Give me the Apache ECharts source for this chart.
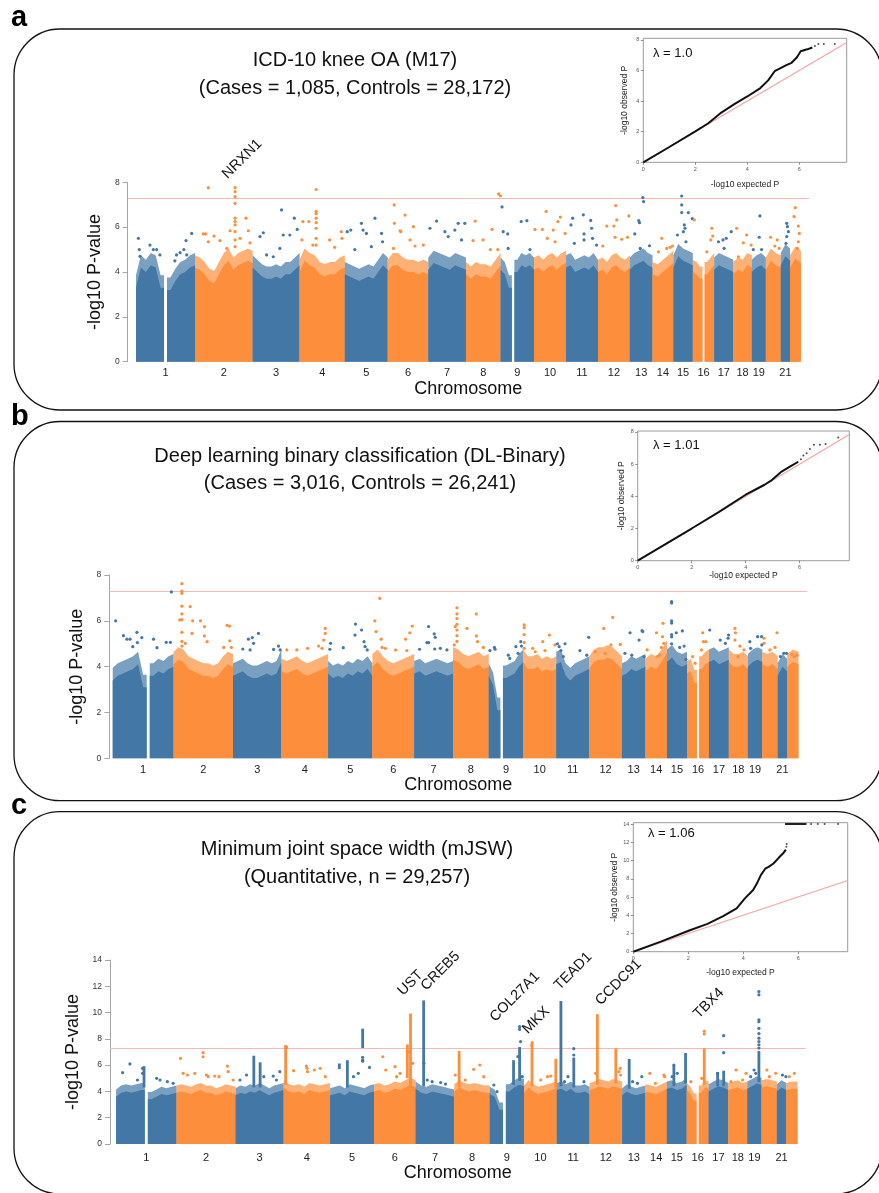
<!DOCTYPE html>
<html>
<head>
<meta charset="utf-8">
<script src="https://cdn.jsdelivr.net/npm/echarts@6/dist/echarts.min.js"></script>
<style>
  html, body { margin: 0; background: #fff; }
  #main { width: 879px; height: 1193px; }
</style>
</head>
<body>
<div id="main"></div>
<script>
// chromosomes and their plotted spans (Mb)
var chromNames = ['1','2','3','4','5','6','7','8','9','10','11','12','13','14','15','16','17','18','19','20','21','22'];
var chromSpan = [249, 243, 198, 191, 181, 171, 159, 146, 141, 135, 135, 134, 96, 88, 82, 90, 81, 78, 59, 63, 39, 46];
var shownLabels = ['1','2','3','4','5','6','7','8','9','10','11','12','13','14','15','16','17','18','19','21'];
var gwLine = 7.3;

// dense part of each chromosome: top of the cloud, evenly spaced along the chromosome (null = gap)
var aBody = [
  [3.6, 4.5, 4.3, 4.6, 4.5, 3.6, null, 3.5, 3.9, 4.2, 4.3, 4.5, 4.6],
  [4.5, 4.4, 4.2, 3.9, 3.8, 4.2, 4.6, 4.8, 4.4, 4.6, 4.7, 4.8, 4.7],
  [4.5, 4.3, 4.1, 4.0, 4.0, 4.1, 4.0, 4.2, 4.2, 4.4, 4.6],
  [4.3, 4.8, 4.6, 4.5, 4.2, 4.1, 4.2, 4.2, 4.4, 4.5],
  [4.2, 4.1, 4.0, 3.9, 4.0, 4.1, 4.0, 4.3, 4.6, 4.4],
  [4.3, 4.6, 4.6, 4.4, 4.3, 4.3, 4.2, 4.3, 4.2],
  [4.4, 4.7, 4.6, 4.5, 4.4, 4.6, 4.5, 4.4],
  [4.2, 4.0, 4.2, 4.1, 4.1, 4.0, 4.3, 4.6],
  [4.4, 4.2, 3.6, null, 4.3, 4.6, 4.5, 4.6, 4.4],
  [4.4, 4.5, 4.3, 4.5, 4.6, 4.4, 4.6, 4.7],
  [4.5, 4.6, 4.3, 4.4, 4.5, 4.4, 4.6, 4.3],
  [4.3, 4.4, 4.2, 4.5, 4.6, 4.4, 4.3, 4.5],
  [4.4, 4.6, 4.7, 4.8, 4.6, 4.5],
  [4.2, 4.1, 4.3, 4.5, 4.7],
  [4.5, 5.0, 4.8, 4.7, 4.6],
  [4.3, 4.2, 4.0, null, 4.2, 4.4, 4.6],
  [4.4, 4.6, 4.5, 4.4, 4.3],
  [4.2, 4.4, 4.3, 4.6, 4.5],
  [4.3, 4.5, 4.6, 4.4],
  [4.4, 4.8, 4.6, 4.5],
  [4.6, 5.0, 4.8],
  [4.5, 4.9, 4.7]
];
// single SNPs standing above the cloud: [chromosome, position Mb, -log10 P]
var aDots = [
  [1,10,5.5],[1,14,5.0],[1,59,5.2],[1,73,5.0],[1,87,5.0],[1,101,4.76],[1,17,4.7],[1,164,4.5],[1,171,4.76],[1,202,5.0],[1,211,5.4],[1,235,5.72],[1,214,4.76],[1,186,4.86],
  [2,56,7.76],[2,169,7.76],[2,169,7.58],[2,169,7.36],[2,169,7.06],[2,169,6.4],[2,169,6.25],[2,169,6.1],[2,169,5.8],[2,169,5.43],[2,169,5.13],[2,35,5.7],[2,45,5.7],[2,80,5.6],[2,105,5.4],[2,56,5.35],[2,148,5.84],[2,190,5.5],[2,215,6.4],[2,225,5.84],[2,232,5.3],[2,134,5.05],
  [3,31,5.58],[3,45,5.75],[3,122,6.77],[3,115,5.05],[3,129,5.65],[3,157,5.65],[3,176,6.4],[3,188,5.9],[3,87,4.68],[3,59,4.76],
  [4,70,7.68],[4,70,6.7],[4,70,6.6],[4,70,6.4],[4,70,6.2],[4,70,5.95],[4,70,5.5],[4,70,5.2],[4,14,6.25],[4,39,6.25],[4,10,5.43],[4,56,5.2],[4,127,5.43],[4,176,5.8],[4,179,5.5],[4,148,5.1],
  [5,10,5.8],[5,25,5.87],[5,70,6.17],[5,77,5.87],[5,91,5.72],[5,127,6.4],[5,155,5.72],[5,159,5.35],[5,42,5.0],[5,112,5.13],
  [6,27,6.99],[6,28,6.17],[6,24,5.05],[6,73,6.54],[6,52,5.84],[6,55,5.8],[6,108,6.02],[6,94,5.43],[6,115,5.16],[6,150,5.2],
  [7,7,5.95],[7,35,6.27],[7,70,5.8],[7,84,5.58],[7,112,5.87],[7,126,6.17],[7,154,6.17],[7,140,5.43],
  [8,39,6.27],[8,30,5.4],[8,72,5.43],[8,110,5.9],[8,138,7.48],[8,145,7.4],[8,134,5.0],[8,103,5.0],
  [9,6,6.9],[9,11,5.8],[9,30,5.7],[9,32,5.05],[9,87,6.25],[9,111,6.29],[9,124,5.0],
  [10,4,5.9],[10,35,5.9],[10,51,6.7],[10,56,5.5],[10,81,5.87],[10,101,6.25],[10,111,6.45],[10,131,5.72],[10,89,5.35],
  [11,28,6.4],[11,21,6.1],[11,73,6.55],[11,76,5.7],[11,76,5.43],[11,104,6.3],[11,108,5.95],[11,112,5.5],[11,35,5.28],[11,129,5.2],
  [12,20,5.16],[12,37,6.05],[12,67,6.05],[12,75,6.96],[12,79,6.32],[12,100,5.46],[12,130,6.5],[12,124,5.55],[12,72,5.55],
  [13,55,7.32],[13,58,7.14],[13,38,6.29],[13,41,6.2],[13,21,5.7],[13,44,5.05],[13,83,5.17],
  [14,39,5.5],[14,25,4.9],[14,60,5.05],[14,74,5.1],[14,84,5.16],
  [15,35,7.39],[15,35,6.99],[15,35,6.65],[15,46,6.1],[15,49,5.95],[15,63,6.65],[15,80,6.38],[15,17,5.65],[15,53,5.35],[15,42,5.8],
  [16,6,6.32],[16,59,4.9],[16,80,5.95],[16,84,5.6],[16,76,5.43],
  [17,18,5.35],[17,37,5.43],[17,51,5.5],[17,72,5.8],[17,42,5.05],
  [18,14,5.95],[18,42,5.3],[18,56,5.65],[18,75,5.2],[18,21,4.68],
  [19,34,6.5],[19,31,5.55],[19,41,5.0],[19,6,5.0],
  [20,20,5.55],[20,38,5.16],[20,48,5.43],[20,56,5.05],
  [21,25,6.17],[21,28,6.02],[21,32,5.8],[21,25,5.58],[21,22,5.28],
  [22,22,6.87],[22,17,6.47],[22,35,6.05],[22,39,5.72],[22,35,5.35],[22,31,5.05]
];
var aCols = [];

var bBody = [
  [3.7, 3.9, 4.0, 4.1, 4.2, 4.4, 3.4, null, 3.9, 4.1, 4.0, 4.2, 4.3],
  [4.4, 4.6, 4.5, 4.2, 4.1, 4.0, 3.9, 3.9, 3.8, 3.9, 4.2, 4.4, 4.3],
  [3.9, 4.0, 4.1, 3.9, 3.8, 3.8, 3.9, 4.0, 3.9, 4.0, 4.5],
  [4.1, 4.0, 4.1, 4.2, 4.0, 3.9, 4.0, 4.1, 4.2, 4.3],
  [4.0, 3.8, 3.9, 3.8, 4.0, 3.9, 4.1, 4.0, 4.2, 3.9],
  [4.3, 4.5, 4.2, 4.0, 3.9, 4.0, 4.1, 4.2, 4.3],
  [4.0, 4.1, 3.9, 4.0, 4.1, 4.0, 3.9, 4.0],
  [4.6, 4.5, 4.3, 4.2, 4.3, 4.4, 4.2, 4.3],
  [3.9, 3.5, 2.4, null, 3.8, 3.9, 4.0, 4.3, 4.5],
  [4.5, 4.2, 4.2, 4.3, 4.1, 4.2, 4.1, 4.2],
  [4.4, 4.5, 3.9, 3.7, 3.9, 4.0, 4.1, 4.2],
  [4.2, 4.5, 4.6, 4.6, 4.7, 4.6, 4.4, 4.2],
  [3.9, 4.0, 4.2, 4.1, 4.2, 4.3],
  [4.1, 4.3, 4.2, 4.5, 4.9],
  [4.5, 4.7, 4.4, 4.3, 4.4],
  [4.0, 4.1, 3.6, null, 4.2, 4.4, 4.5],
  [4.5, 4.6, 4.4, 4.5, 4.6],
  [4.5, 4.3, 4.3, 4.4, 4.2],
  [4.3, 4.5, 4.6, 4.5],
  [4.4, 4.3, 4.4, 4.2],
  [3.9, 4.3, 4.1],
  [4.3, 4.5, 4.4]
];
var bDots = [
  [1,12,6.0],[1,44,5.35],[1,58,5.2],[1,71,5.2],[1,99,5.5],[1,101,5.05],[1,119,5.27],[1,82,4.87],[1,167,5.2],[1,181,4.83],[1,219,5.06],[1,236,5.06],[1,240,7.26],
  [2,34,7.62],[2,34,7.3],[2,34,7.2],[2,34,6.64],[2,34,6.3],[2,34,6.05],[2,34,5.5],[2,34,5.1],[2,34,4.9],[2,25,6.04],[2,48,5.02],[2,68,6.62],[2,78,6.0],[2,75,5.45],[2,110,6.0],[2,126,5.75],[2,126,5.34],[2,137,5.09],[2,219,5.8],[2,229,5.77],[2,230,5.13],[2,236,4.84],[2,205,4.84],
  [3,40,4.77],[3,63,5.2],[3,79,5.27],[3,84,5.02],[3,104,5.45],[3,70,4.73],[3,166,4.75],[3,186,4.9],[3,193,4.73],
  [4,22,4.73],[4,63,4.73],[4,107,4.8],[4,152,4.9],[4,173,5.16],[4,179,5.67],[4,179,5.45],[4,166,4.8],
  [5,10,5.02],[5,7,4.76],[5,62,4.83],[5,110,5.38],[5,112,5.86],[5,137,5.6],[5,147,5.09],[5,151,4.87],[5,160,4.73],
  [6,10,6.0],[6,15,5.53],[6,30,6.98],[6,36,5.2],[6,40,4.84],[6,53,4.8],[6,95,4.73],[6,136,5.2],[6,153,5.48],[6,163,5.77],[6,141,4.7],
  [7,22,4.76],[7,52,5.05],[7,59,5.05],[7,59,5.75],[7,82,5.43],[7,86,5.28],[7,84,4.77],[7,107,4.8],[7,134,4.73],
  [8,16,6.57],[8,16,6.3],[8,16,6.1],[8,16,5.85],[8,16,5.6],[8,16,5.35],[8,16,5.1],[8,9,5.75],[8,5,4.95],[8,57,5.67],[8,95,6.3],[8,95,5.34],[8,100,5.09],[8,124,4.84],
  [9,5,4.7],[9,23,4.84],[9,26,4.76],[9,80,4.5],[9,86,4.36],[9,111,4.87],[9,131,5.09],[9,134,4.9],[9,120,4.58],
  [10,4,5.82],[10,4,5.7],[10,4,5.4],[10,4,5.05],[10,4,4.8],[10,39,4.8],[10,49,4.65],[10,80,5.09],[10,89,4.7],[10,107,5.38],[10,130,4.95],
  [11,5,5.0],[11,12,4.87],[11,19,4.7],[11,36,5.0],[11,29,4.44],[11,97,4.7],[11,125,4.5],[11,133,5.28],
  [12,25,4.65],[12,59,5.67],[12,89,4.95],[12,96,6.15],[12,127,4.97],[12,66,4.58],
  [13,12,4.58],[13,33,5.48],[13,40,4.5],[13,70,5.16],[13,82,5.57],[13,85,5.53],[13,90,4.44],
  [14,7,4.73],[14,45,5.48],[14,48,4.44],[14,72,5.89],[14,70,5.31],[14,75,5.02],[14,65,4.84],[14,58,4.5],
  [15,19,6.84],[15,19,6.78],[15,19,6.0],[15,19,5.9],[15,19,5.4],[15,19,5.3],[15,19,5.0],[15,38,5.48],[15,63,5.56],[15,70,4.9],[15,77,4.32],[15,52,4.84],
  [16,23,4.44],[16,33,4.15],[16,64,5.48],[16,67,5.09],[16,77,5.09],[16,59,4.73],
  [17,3,5.6],[17,46,5.16],[17,67,5.02],[17,80,5.38],[17,78,5.24],
  [18,25,5.67],[18,27,5.48],[18,25,5.16],[18,45,4.9],[18,62,4.73],[18,38,4.44],
  [19,8,5.09],[19,11,4.8],[19,40,5.31],[19,56,5.31],[19,57,4.95],
  [20,7,5.24],[20,7,5.02],[20,31,4.73],[20,52,4.84],[20,60,5.48],
  [21,11,4.44],[21,25,4.58],[21,36,4.58],
  [22,19,4.54],[22,29,4.44],[22,40,4.5]
];
var bCols = [];

var cBody = [
  [3.9, 4.2, 4.3, 4.2, 4.3, 4.4, null, 3.7, 3.9, 4.1, 4.0, 4.1, 4.2],
  [4.2, 4.3, 4.2, 4.1, 4.3, 4.4, 4.2, 4.2, 4.0, 4.1, 4.3, 4.2, 4.1],
  [4.0, 4.2, 4.1, 4.3, 4.2, 4.4, 4.2, 4.0, 4.2, 4.3, 4.4],
  [4.6, 4.3, 4.2, 4.3, 4.1, 4.4, 4.3, 4.2, 4.3, 4.4],
  [4.0, 4.1, 4.2, 4.0, 4.3, 4.2, 4.1, 4.0, 4.2, 4.3],
  [4.3, 4.4, 4.2, 4.3, 4.5, 4.4, 4.6, 4.8, 4.6],
  [4.5, 4.2, 4.1, 4.3, 4.2, 4.1, 4.0, 3.9],
  [4.3, 4.6, 4.4, 4.3, 4.4, 4.3, 4.2, 4.2],
  [4.1, 3.9, 2.9, null, 4.3, 4.6, 4.8, 4.7],
  [4.2, 4.6, 4.3, 4.1, 4.2, 4.3, 4.4, 4.6],
  [4.4, 4.5, 4.3, 4.5, 4.2, 4.2, 4.3, 4.1],
  [4.4, 4.5, 4.7, 4.6, 4.5, 4.7, 4.6, 4.5],
  [4.0, 4.3, 4.1, 4.0, 4.1, 4.2],
  [4.3, 4.2, 4.1, 4.3, 4.5],
  [4.5, 4.6, 4.4, 4.5, 4.8],
  [4.4, 4.1, 3.6, null, 4.2, 4.6, 4.5],
  [4.3, 4.5, 4.7, 4.6, 4.4],
  [4.4, 4.5, 4.6, 4.4, 4.5],
  [4.5, 4.7, 4.9, 4.8],
  [4.6, 4.7, 4.6, 4.5],
  [4.3, 4.6, 4.4],
  [4.4, 4.5, 4.5]
];
var cDots = [
  [1,27,5.43],[1,57,6.09],[1,88,4.87],[1,109,5.76],[1,109,5.38],[1,167,5.0],[1,181,4.87],[1,211,4.74],[1,235,4.62],
  [2,16,6.52],[2,27,5.38],[2,45,5.25],[2,75,5.38],[2,109,6.95],[2,109,6.64],[2,123,5.25],[2,130,5.12],[2,157,5.17],[2,175,5.12],[2,209,5.93],[2,212,5.5],[2,233,4.87],
  [3,18,4.87],[3,45,5.25],[3,116,5.12],[3,155,5.17],[3,182,5.5],[3,168,4.87],
  [4,41,5.58],[4,93,5.93],[4,96,5.76],[4,98,5.5],[4,126,5.63],[4,150,5.76],[4,171,5.12],[4,8,7.3],[4,12,7.38],
  [5,134,6.6],[5,134,6.4],[5,134,6.3],[5,96,5.12],[5,162,5.83],[5,116,5.38],
  [6,36,6.64],[6,48,5.63],[6,86,5.88],[6,93,5.12],[6,107,5.38],[6,141,7.02],[6,159,6.14],
  [7,34,6.14],[7,48,4.87],[7,68,4.74],[7,103,4.67],[7,123,4.56],
  [8,4,5.25],[8,80,5.68],[8,105,6.01],[8,45,4.87],[8,121,5.12],
  [9,123,8.93],[9,123,8.72],[9,127,7.79],[9,116,6.65],[9,134,5.12],[9,17,4.49],[9,30,3.98],
  [10,34,7.71],[10,32,7.53],[10,97,5.12],[10,110,5.17],[10,69,4.87],
  [11,70,7.25],[11,70,6.77],[11,32,4.74],[11,46,5.12],[11,112,4.74],
  [12,25,5.38],[12,126,5.76],[12,128,5.25],[12,121,5.5],
  [13,81,5.12],[13,63,4.62],[13,43,4.74],
  [14,18,5.38],[14,76,5.25],[14,79,5.12],[14,41,4.62],
  [15,29,6.01],[15,43,5.38],[15,22,5.12],
  [16,72,8.57],[16,72,8.37],[16,17,4.74],[16,62,5.0],
  [17,62,8.24],[17,62,6.95],[17,37,5.38],
  [18,32,5.63],[18,11,4.74],[18,59,4.87],[18,73,5.38],
  [19,48,11.6],[19,48,11.35],[19,48,9.45],[19,48,9.3],[19,48,8.8],[19,48,8.4],[19,48,8.05],[19,48,7.8],[19,48,7.55],[19,48,7.3],[19,28,5.63],[19,35,5.38],[19,14,5.12],
  [20,22,5.63],[20,58,5.38],[20,32,5.12],
  [21,23,5.25],[21,37,5.12],
  [22,33,5.38],[22,12,5.12]
];
// dense columns of SNPs at a locus: [chromosome, position Mb, from, to]
var cCols = [
  [1,115,4.3,5.85],[3,75,4.3,6.64],[3,101,4.3,6.14],[4,8,4.5,7.45],[5,38,5.7,6.05],[5,71,4.3,6.3],
  [5,134,7.3,8.7],[6,150,4.5,9.85],[6,137,5.0,7.5],[7,33,4.4,10.85],[8,20,4.3,7.0],[9,98,4.5,6.3],
  [9,123,4.8,7.3],[10,33,4.4,7.55],[10,131,4.3,6.4],[11,17,4.4,10.8],[11,70,4.3,6.5],[12,32,4.5,9.8],
  [12,108,4.6,7.2],[13,29,4.2,6.4],[15,29,4.4,5.9],[15,77,4.6,6.85],[16,72,4.5,7.2],[17,37,4.4,5.4],
  [17,62,4.4,5.5],[19,48,4.7,7.0]
];

// gene annotations: [panel, chromosome, position Mb, -log10 P, gene]
var genes = [
  [0, 2, 169, 7.76, 'NRXN1'],
  [2, 6, 150, 9.85, 'UST'],
  [2, 7, 33, 10.85, 'CREB5'],
  [2, 9, 123, 8.93, 'COL27A1'],
  [2, 10, 34, 7.71, 'MKX'],
  [2, 11, 17, 10.8, 'TEAD1'],
  [2, 12, 32, 9.8, 'CCDC91'],
  [2, 16, 72, 8.57, 'TBX4']
];

// QQ plots: [expected, observed]
var qqA = [[0,0],[1,1],[2,2.02],[2.5,2.55],[3,3.25],[3.5,3.8],[4,4.3],[4.5,4.85],[4.8,5.35],[5.05,5.95],[5.5,6.35],[5.7,6.5],[5.9,6.85],[6.05,7.25],[6.3,7.38],[6.5,7.5]];
var qqATail = [[6.6,7.6],[6.73,7.72],[6.94,7.72],[7.36,7.72]];
var qqB = [[0,0],[2,2],[3,3.02],[4,4.1],[4.7,4.72],[4.97,5.01],[5.3,5.5],[5.64,5.84],[5.95,6.15]];
var qqBTail = [[6.05,6.3],[6.14,6.53],[6.26,6.67],[6.38,6.94],[6.53,7.21],[6.75,7.21],[6.96,7.25],[7.43,7.66]];
var qqC = [[0,0],[1,1.1],[2.06,2.35],[2.7,3.05],[3.27,3.9],[3.76,4.76],[4.06,5.85],[4.36,6.76],[4.5,7.5],[4.64,8.4],[4.8,9.1],[4.92,9.3],[5.1,9.67],[5.29,10.3],[5.47,10.86],[5.55,11.2]];
var qqCTail = [[5.57,11.5],[5.58,11.8]];
var qqCCap = [[5.52,14],[6.3,14]];
var qqCCapTail = [[6.47,14],[6.71,14],[6.96,14],[7.45,14]];

var lambdas = ['λ = 1.0', 'λ = 1.01', 'λ = 1.06'];
var titles = [
  ['ICD-10 knee OA (M17)', '(Cases = 1,085, Controls = 28,172)'],
  ['Deep learning binary classification (DL-Binary)', '(Cases = 3,016, Controls = 26,241)'],
  ['Minimum joint space width (mJSW)', '(Quantitative, n = 29,257)']
];

// ---------------------------------------------------------------
var chromStart = [];
var acc = 0;
chromSpan.forEach(function (s) { chromStart.push(acc); acc += s; });

var blue = '#4277a6', orange = '#fd8e3b';
function colorOf(i) { return i % 2 === 0 ? blue : orange; }

var labelCenters = shownLabels.map(function (n) {
  var i = chromNames.indexOf(n);
  return chromStart[i] + chromSpan[i] / 2;
});
function chromLabel(v) {
  for (var k = 0; k < labelCenters.length; k++) {
    if (Math.abs(labelCenters[k] - v) < 0.5) return shownLabels[k];
  }
  return '';
}

var man = [
  { left: 127.7, top: 182.3, width: 681.3, height: 179.4, xMin: -35, xMax: 2839, yMax: 8, yNameGap: 17, xNameGap: 17, labMargin: 6, body: aBody, dots: aDots, cols: aCols },
  { left: 109.3, top: 575, width: 698, height: 183.3, xMin: -14, xMax: 2841, yMax: 8, yNameGap: 16, xNameGap: 15, labMargin: 6, body: bBody, dots: bDots, cols: bCols },
  { left: 110, top: 960, width: 695.7, height: 184, xMin: -25, xMax: 2838.6, yMax: 14, yNameGap: 20, xNameGap: 19, labMargin: 8, body: cBody, dots: cDots, cols: cCols }
];
var qq = [
  { left: 643.3, top: 38.3, width: 203.4, height: 124, xMax: 7.82, yMax: 8.1, yTicks: [0,2,4,6,8], xNameGap: 18, yNameGap: 14, curve: qqA, tail: qqATail },
  { left: 637.7, top: 431, width: 211.6, height: 129.7, xMax: 7.84, yMax: 8.06, yTicks: [0,2,4,6,8], xNameGap: 7, yNameGap: 12, curve: qqB, tail: qqBTail },
  { left: 633.3, top: 822.7, width: 214.4, height: 129, xMax: 7.8, yMax: 14.15, yTicks: [0,2,4,6,8,10,12,14], xNameGap: 16, yNameGap: 8, curve: qqC, tail: qqCTail, cap: qqCCap, capTail: qqCCapTail }
];

// the cloud is drawn as a speckled fringe over a solid core
var fringeUp = 0.25, coreDown = 0.3;

function bodyShapes(api, i, hs, shift, fill, opacity) {
  var start = chromStart[i], span = chromSpan[i];
  var step = span / (hs.length - 1), g = step * 0.3;
  var segs = [[]];
  hs.forEach(function (h, k) {
    var x = start + k * step;
    var cur = segs[segs.length - 1];
    if (h === null) {
      cur.push([x - g, hs[k - 1] + shift]);
      segs.push([[x + g, hs[k + 1] + shift]]);
    } else {
      cur.push([x, h + shift]);
    }
  });
  return segs.map(function (seg) {
    var pts = [[seg[0][0], 0]].concat(seg, [[seg[seg.length - 1][0], 0]]);
    return {
      type: 'polygon',
      shape: { points: pts.map(function (p) { return api.coord(p); }) },
      style: { fill: fill, opacity: opacity }
    };
  });
}

var grids = [], xAxes = [], yAxes = [], series = [];

man.forEach(function (p, k) {
  grids.push({ left: p.left, top: p.top, width: p.width, height: p.height });
  xAxes.push({
    gridIndex: k, type: 'value', min: p.xMin, max: p.xMax,
    axisLine: { show: false }, axisTick: { show: false }, splitLine: { show: false },
    axisLabel: { customValues: labelCenters, formatter: chromLabel, fontSize: 11, color: '#222', margin: p.labMargin },
    name: 'Chromosome', nameLocation: 'middle', nameGap: p.xNameGap,
    nameTextStyle: { fontSize: 18, color: '#111' }
  });
  yAxes.push({
    gridIndex: k, type: 'value', min: 0, max: p.yMax, interval: 2,
    axisLine: { show: true, onZero: false, lineStyle: { color: '#a6a6a6', width: 1 } },
    axisTick: { show: true, length: 5, lineStyle: { color: '#a6a6a6' } },
    axisLabel: { fontSize: 8.5, color: '#333', margin: 8 },
    splitLine: { show: false },
    name: '-log10 P-value', nameLocation: 'middle', nameGap: p.yNameGap,
    nameTextStyle: { fontSize: 18, color: '#111' }
  });

  series.push({
    type: 'custom', xAxisIndex: k, yAxisIndex: k, silent: true, z: 2,
    data: chromNames.map(function (n, i) { return [chromStart[i], 0, i]; }),
    encode: { x: 0, y: 1 },
    renderItem: function (params, api) {
      var i = api.value(2);
      var c = colorOf(i);
      return {
        type: 'group',
        children: bodyShapes(api, i, p.body[i], fringeUp, c, 0.7)
          .concat(bodyShapes(api, i, p.body[i], -coreDown, c, 1))
      };
    }
  });
  if (p.cols.length) {
    series.push({
      type: 'custom', xAxisIndex: k, yAxisIndex: k, silent: true, z: 3,
      data: p.cols.map(function (c) { return [chromStart[c[0] - 1] + c[1], c[2], c[3], c[0] - 1]; }),
      encode: { x: 0, y: [1, 2] },
      renderItem: function (params, api) {
        var top = api.coord([api.value(0), api.value(2)]);
        var bot = api.coord([api.value(0), api.value(1)]);
        return {
          type: 'rect',
          shape: { x: top[0] - 1.4, y: top[1] - 1, width: 2.8, height: bot[1] - top[1] + 1 },
          style: { fill: colorOf(api.value(3)) }
        };
      }
    });
  }
  series.push({
    type: 'scatter', xAxisIndex: k, yAxisIndex: k, silent: true, z: 4,
    symbolSize: 3.2,
    data: p.dots.map(function (d) { return [chromStart[d[0] - 1] + d[1], d[2], d[0] - 1]; }),
    encode: { x: 0, y: 1 },
    itemStyle: { color: function (prm) { return colorOf(prm.value[2]); }, opacity: 1 },
    markLine: {
      silent: true, symbol: 'none', label: { show: false }, z: 1,
      lineStyle: { color: '#f7b7b7', width: 1, type: 'solid' },
      data: [{ yAxis: gwLine }]
    }
  });
});

qq.forEach(function (q, k) {
  var g = 3 + k;
  grids.push({ left: q.left, top: q.top, width: q.width, height: q.height, show: true, borderColor: '#9c9c9c', borderWidth: 1, backgroundColor: '#fff' });
  xAxes.push({
    gridIndex: g, type: 'value', min: 0, max: q.xMax, interval: 2,
    axisLine: { show: false },
    axisTick: { show: true, length: 2.5, customValues: [0, 2, 4, 6], lineStyle: { color: '#777', width: 0.8 } },
    axisLabel: { customValues: [0, 2, 4, 6], fontSize: 5.5, color: '#555', margin: 4 },
    splitLine: { show: false },
    name: '-log10 expected P', nameLocation: 'middle', nameGap: q.xNameGap,
    nameTextStyle: { fontSize: 8.5, color: '#222' }
  });
  yAxes.push({
    gridIndex: g, type: 'value', min: 0, max: q.yMax, interval: 2,
    axisLine: { show: false },
    axisTick: { show: true, length: 2.5, customValues: q.yTicks, lineStyle: { color: '#777', width: 0.8 } },
    axisLabel: { customValues: q.yTicks, fontSize: 5.5, color: '#555', margin: 4 },
    splitLine: { show: false },
    name: '-log10 observed P', nameLocation: 'middle', nameGap: q.yNameGap,
    nameTextStyle: { fontSize: 8.5, color: '#222' }
  });
  series.push({
    type: 'line', xAxisIndex: g, yAxisIndex: g, silent: true, showSymbol: false, z: 2,
    data: [[0, 0], [q.xMax, q.xMax]],
    lineStyle: { color: '#f5a3a3', width: 1.1 }
  });
  series.push({
    type: 'line', xAxisIndex: g, yAxisIndex: g, silent: true, showSymbol: false, z: 3,
    data: q.curve, lineStyle: { color: '#111', width: 2 }
  });
  series.push({
    type: 'scatter', xAxisIndex: g, yAxisIndex: g, silent: true, z: 3,
    symbolSize: 2, data: q.tail, itemStyle: { color: '#222' }
  });
  if (q.cap) {
    series.push({
      type: 'line', xAxisIndex: g, yAxisIndex: g, silent: true, showSymbol: false, z: 3,
      data: q.cap, lineStyle: { color: '#222', width: 2 }
    });
    series.push({
      type: 'scatter', xAxisIndex: g, yAxisIndex: g, silent: true, z: 3,
      symbolSize: 2, data: q.capTail, itemStyle: { color: '#222' }
    });
  }
});

var chart = echarts.init(document.getElementById('main'), null, { renderer: 'canvas' });
chart.setOption({
  animation: false,
  backgroundColor: '#fff',
  textStyle: { fontFamily: '"Liberation Sans", Arial, sans-serif' },
  grid: grids,
  xAxis: xAxes,
  yAxis: yAxes,
  series: series
});

// decorations: panel frames, letters, titles, lambda, gene names
var font = '"Liberation Sans", Arial, sans-serif';
var frames = [[14, 29, 868, 381], [14, 421.5, 868, 379.2], [14, 811.7, 868, 382.3]];
var letterPos = [[11, 3.5], [11, 402.5], [11, 791.5]];
var titlePos = [[355, 60, 88], [360, 456, 483], [357, 849, 877]];
var lambdaPos = [[653, 53], [653, 445], [648, 833]];
var geneShift = { NRXN1: [-5, -6], UST: [-5, -16], CREB5: [5, -8], COL27A1: [-22, -2], MKX: [-2, -6], TEAD1: [1, -9], CCDC91: [6, -7], TBX4: [-3, -10] };

var elements = [];
frames.forEach(function (f) {
  elements.push({ type: 'rect', silent: true, z: 0, shape: { x: f[0], y: f[1], width: f[2], height: f[3], r: 46 }, style: { fill: 'none', stroke: '#111', lineWidth: 1.3 } });
});
['a', 'b', 'c'].forEach(function (l, k) {
  elements.push({ type: 'text', silent: true, x: letterPos[k][0], y: letterPos[k][1], style: { text: l, font: 'bold 29px ' + font, fill: '#000', align: 'left', verticalAlign: 'top', textAlign: 'left', textVerticalAlign: 'top' } });
});
titles.forEach(function (t, k) {
  [1, 2].forEach(function (j) {
    elements.push({ type: 'text', silent: true, x: titlePos[k][0], y: titlePos[k][j], style: { text: t[j - 1], font: '20px ' + font, fill: '#111', align: 'center', verticalAlign: 'middle', textAlign: 'center', textVerticalAlign: 'middle' } });
  });
});
lambdas.forEach(function (t, k) {
  elements.push({ type: 'text', silent: true, z: 10, x: lambdaPos[k][0], y: lambdaPos[k][1], style: { text: t, font: '13px ' + font, fill: '#111', align: 'left', verticalAlign: 'middle', textAlign: 'left', textVerticalAlign: 'middle' } });
});
genes.forEach(function (g) {
  var pt = chart.convertToPixel({ gridIndex: g[0] }, [chromStart[g[1] - 1] + g[2], g[3]]);
  var sh = geneShift[g[4]];
  elements.push({ type: 'text', silent: true, z: 10, x: pt[0] + sh[0], y: pt[1] + sh[1], rotation: Math.PI / 4, style: { text: g[4], font: '14.5px ' + font, fill: '#111', align: 'left', verticalAlign: 'bottom', textAlign: 'left', textVerticalAlign: 'bottom' } });
});
chart.setOption({ graphic: { elements: elements } });

window.addEventListener('resize', function () { chart.resize(); });
</script>
</body>
</html>
